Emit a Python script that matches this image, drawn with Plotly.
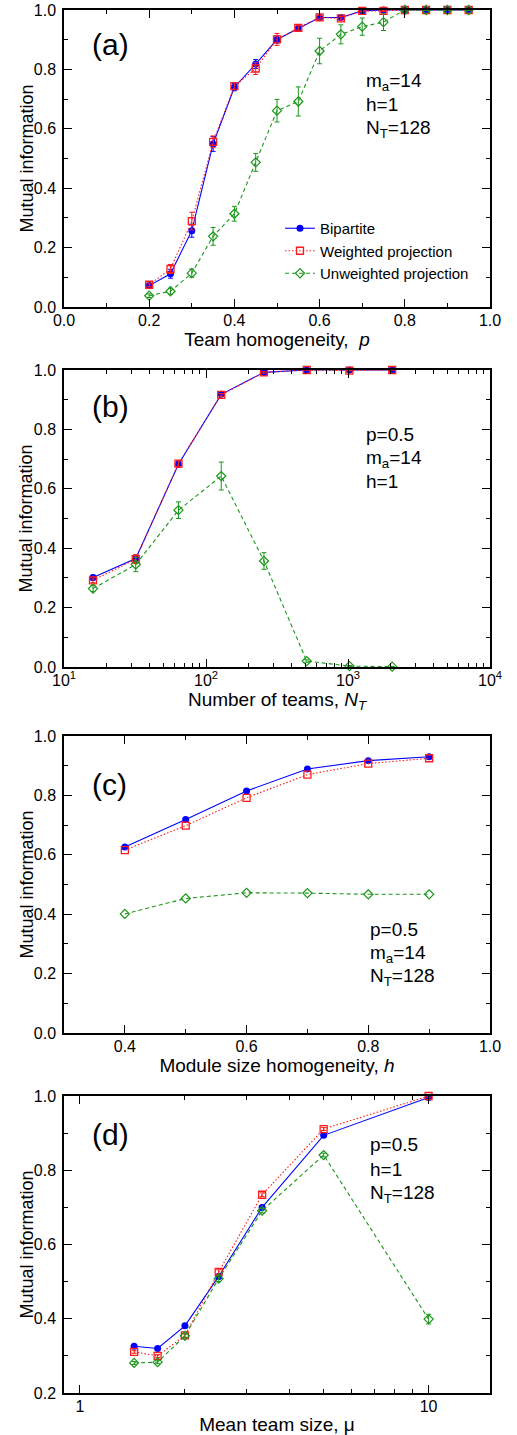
import math
import plotly.graph_objects as go

# ---------------- data ----------------
# Panel (a): team homogeneity p
p_vals = [0.2, 0.25, 0.3, 0.35, 0.4, 0.45, 0.5, 0.55, 0.6, 0.65, 0.7, 0.75, 0.8, 0.85, 0.9, 0.95]
a_bip = [0.072, 0.112, 0.257, 0.549, 0.740, 0.818, 0.901, 0.938, 0.975, 0.975, 0.997, 1.0, 1.0, 1.0, 1.0, 1.0]
a_bip_err = [0.005, 0.015, 0.022, 0.025, 0.012, 0.015, 0.012, 0.008, 0.006, 0.006, 0.003, 0.002, 0, 0, 0, 0]
a_wp = [0.075, 0.128, 0.289, 0.556, 0.744, 0.803, 0.901, 0.940, 0.975, 0.972, 0.997, 0.997, 1.0, 1.0, 1.0, 1.0]
a_wp_err = [0.006, 0.015, 0.030, 0.020, 0.012, 0.020, 0.020, 0.008, 0.006, 0.006, 0.003, 0.002, 0, 0, 0, 0]
a_up = [0.038, 0.053, 0.114, 0.238, 0.314, 0.487, 0.661, 0.692, 0.862, 0.918, 0.944, 0.959, 1.0, 1.0, 1.0, 1.0]
a_up_err = [0.006, 0.010, 0.014, 0.030, 0.025, 0.030, 0.038, 0.049, 0.043, 0.032, 0.029, 0.028, 0.003, 0, 0, 0]

# Panel (b): number of teams N_T
nt_vals = [16, 32, 64, 128, 256, 512, 1024, 2048]
b_bip = [0.301, 0.365, 0.683, 0.918, 0.992, 1.0, 1.0, 1.0]
b_bip_err = [0.008, 0.012, 0.010, 0.005, 0.003, 0, 0, 0]
b_wp = [0.292, 0.363, 0.685, 0.916, 0.992, 1.0, 0.998, 1.0]
b_wp_err = [0.008, 0.015, 0.010, 0.005, 0.003, 0, 0, 0]
b_up = [0.264, 0.345, 0.528, 0.643, 0.357, 0.020, 0.003, 0.001]
b_up_err = [0.010, 0.024, 0.028, 0.047, 0.028, 0.004, 0.002, 0.001]

# Panel (c): module size homogeneity h
h_vals = [0.4, 0.5, 0.6, 0.7, 0.8, 0.9]
c_bip = [0.626, 0.719, 0.815, 0.889, 0.917, 0.930]
c_wp = [0.616, 0.698, 0.792, 0.870, 0.907, 0.925]
c_up = [0.401, 0.453, 0.472, 0.471, 0.467, 0.467]

# Panel (d): mean team size mu
mu_vals = [1.43, 1.67, 2.0, 2.5, 3.33, 5.0, 10.0]
d_bip = [0.326, 0.320, 0.381, 0.514, 0.700, 0.894, 0.996]
d_bip_err = [0.004, 0.004, 0.005, 0.006, 0.005, 0.004, 0.005]
d_wp = [0.311, 0.300, 0.355, 0.526, 0.734, 0.911, 1.0]
d_wp_err = [0.004, 0.004, 0.005, 0.006, 0.005, 0.004, 0.003]
d_up = [0.281, 0.283, 0.354, 0.508, 0.691, 0.841, 0.399]
d_up_err = [0.004, 0.004, 0.005, 0.008, 0.006, 0.005, 0.013]

series_names = ["Bipartite", "Weighted projection", "Unweighted projection"]

log_major_b = [10, 100, 1000, 10000]
log_major_b_text = ["10<sup>1</sup>", "10<sup>2</sup>", "10<sup>3</sup>", "10<sup>4</sup>"]
log_minor_b = [20, 30, 40, 50, 60, 70, 80, 90, 200, 300, 400, 500, 600, 700, 800, 900,
               2000, 3000, 4000, 5000, 6000, 7000, 8000, 9000]
log_major_d = [1, 10]
log_major_d_text = ["1", "10"]
log_minor_d = [2, 3, 4, 5, 6, 7, 8, 9]

# ---------------- styles ----------------
BLUE = "#0000ff"
RED = "#ff1a1a"
GREEN = "#1a961a"
FONT = "Liberation Sans, Arial, sans-serif"

styles = [
    dict(color=BLUE, dash="solid", symbol="circle", msize=7, mline=0),
    dict(color=RED, dash="1.5px,2px", symbol="square-open", msize=7, mline=1.3),
    dict(color=GREEN, dash="4px,3px", symbol="diamond-open", msize=7, mline=1.2),
]

fig = go.Figure()


def add_series(x, y, err, k, xa, ya, show_legend):
    st = styles[k]
    kw = {}
    if err is not None:
        kw["error_y"] = dict(type="data", array=err, visible=True, color=st["color"],
                             thickness=1, width=2.5)
    fig.add_trace(go.Scatter(
        x=x, y=y, mode="lines+markers", name=series_names[k],
        line=dict(color=st["color"], width=1.1, dash=st["dash"]),
        marker=dict(symbol=st["symbol"], size=st["msize"], color=st["color"],
                    line=dict(color=st["color"], width=st["mline"])),
        xaxis=xa, yaxis=ya, showlegend=show_legend, cliponaxis=False, **kw))


panels = [
    ("x", "y", p_vals, [(a_bip, a_bip_err), (a_wp, a_wp_err), (a_up, a_up_err)], True),
    ("x2", "y2", nt_vals, [(b_bip, b_bip_err), (b_wp, b_wp_err), (b_up, b_up_err)], False),
    ("x3", "y3", h_vals, [(c_bip, None), (c_wp, None), (c_up, None)], False),
    ("x4", "y4", mu_vals, [(d_bip, d_bip_err), (d_wp, d_wp_err), (d_up, d_up_err)], False),
]
for xa, ya, xv, ser, leg in panels:
    for k in [0, 1, 2]:
        add_series(xv, ser[k][0], ser[k][1], k, xa, ya, leg)

# the page's body margin is removed (see post_script), so the figure fills the window
W, H = 517, 1435
def px(x):
    return x / W
def py(y):
    return 1 - y / H

xdom = [px(64), px(490)]
ydoms = [[py(307), py(10)], [py(667), py(370)], [py(1033), py(736)], [py(1393), py(1096)]]

tickfont = dict(family=FONT, size=16, color="black")
common_axis = dict(showline=True, linewidth=1.5, linecolor="black", mirror="allticks",
                   ticks="inside", ticklen=8, tickwidth=1, tickcolor="black",
                   showgrid=False, zeroline=False, tickfont=tickfont, automargin=False,
                   ticklabeloverflow="allow")
minor_lin = lambda d: dict(ticks="inside", ticklen=4, tickwidth=1, tickcolor="black", dtick=d, showgrid=False)

xtitle_font = dict(family=FONT, size=19, color="black")
ytitle_font = dict(family=FONT, size=18, color="black")

layout = dict(
    template="none",
    width=W, height=H, margin=dict(l=0, r=0, t=0, b=0, pad=0),
    paper_bgcolor="white", plot_bgcolor="white",
    font=dict(family=FONT, color="black"),
    showlegend=True,
    legend=dict(x=px(280), y=py(212), xanchor="left", yanchor="top",
                font=dict(family=FONT, size=15, color="black"),
                bgcolor="rgba(0,0,0,0)", itemwidth=30, tracegroupgap=0),
)

XSTAND = -2
YSTAND = 3
layout["xaxis"] = dict(common_axis, domain=xdom, anchor="y", range=[0, 1], dtick=0.2,
                       tickformat=".1f", minor=minor_lin(0.1), ticklabelstandoff=XSTAND,
                       title=dict(text="Team homogeneity,  <i>p</i>", font=xtitle_font, standoff=4))
layout["yaxis"] = dict(common_axis, domain=ydoms[0], anchor="x", range=[0, 1], dtick=0.2,
                       tickformat=".1f", minor=minor_lin(0.1), ticklabelstandoff=YSTAND)
layout["xaxis2"] = dict(common_axis, domain=xdom, anchor="y2", type="log", range=[1, 4],
                        tickmode="array", tickvals=log_major_b, ticktext=log_major_b_text,
                        ticklabelstandoff=XSTAND,
                        minor=dict(ticks="inside", ticklen=4, tickwidth=1, tickcolor="black",
                                   tickmode="array", tickvals=log_minor_b, showgrid=False),
                        title=dict(text="Number of teams, <i>N<sub>T</sub></i>", font=xtitle_font, standoff=2))
layout["yaxis2"] = dict(common_axis, domain=ydoms[1], anchor="x2", range=[0, 1], dtick=0.2,
                        tickformat=".1f", minor=minor_lin(0.1), ticklabelstandoff=YSTAND)
layout["xaxis3"] = dict(common_axis, domain=xdom, anchor="y3", range=[0.3, 1.0],
                        tick0=0.4, dtick=0.2, tickformat=".1f", ticklabelstandoff=XSTAND,
                        minor=dict(ticks="inside", ticklen=4, tickwidth=1, tickcolor="black",
                                   tick0=0.3, dtick=0.1, showgrid=False),
                        title=dict(text="Module size homogeneity, <i>h</i>", font=xtitle_font, standoff=4))
layout["yaxis3"] = dict(common_axis, domain=ydoms[2], anchor="x3", range=[0, 1], dtick=0.2,
                        tickformat=".1f", minor=minor_lin(0.1), ticklabelstandoff=YSTAND)
layout["xaxis4"] = dict(common_axis, domain=xdom, anchor="y4", type="log",
                        range=[math.log10(0.9), math.log10(15)],
                        tickmode="array", tickvals=log_major_d, ticktext=log_major_d_text,
                        ticklabelstandoff=XSTAND,
                        minor=dict(ticks="inside", ticklen=4, tickwidth=1, tickcolor="black",
                                   tickmode="array", tickvals=log_minor_d, showgrid=False),
                        title=dict(text="Mean team size, μ", font=xtitle_font, standoff=5))
layout["yaxis4"] = dict(common_axis, domain=ydoms[3], anchor="x4", range=[0.2, 1.0], dtick=0.2,
                        tick0=0.2, tickformat=".1f", minor=minor_lin(0.1), ticklabelstandoff=YSTAND)

fig.update_layout(**layout)

# ---------------- annotations ----------------
ann_font = dict(family=FONT, size=19, color="black")
label_font = dict(family=FONT, size=30, color="black")
annots = []
for lab, yc in [("(a)", 45), ("(b)", 406), ("(c)", 784), ("(d)", 1134)]:
    annots.append(dict(text=lab, x=px(90), y=py(yc), xref="paper", yref="paper",
                       xanchor="left", yanchor="middle", showarrow=False, font=label_font))

# y-axis titles, centred on each panel
for (y0, y1) in [(10, 307), (370, 667), (736, 1033), (1096, 1393)]:
    annots.append(dict(text="Mutual information", x=px(26), y=py((y0 + y1) / 2),
                       xref="paper", yref="paper", xanchor="center", yanchor="middle",
                       textangle=-90, showarrow=False, font=ytitle_font))

info = [
    (364, [("m<sub>a</sub>=14", 82), ("h=1", 105), ("N<sub>T</sub>=128", 129)]),
    (364, [("p=0.5", 434), ("m<sub>a</sub>=14", 459), ("h=1", 482)]),
    (368, [("p=0.5", 929), ("m<sub>a</sub>=14", 954), ("N<sub>T</sub>=128", 977)]),
    (368, [("p=0.5", 1144), ("h=1", 1169), ("N<sub>T</sub>=128", 1194)]),
]
for xl, lines in info:
    for txt, yc in lines:
        annots.append(dict(text=txt, x=px(xl), y=py(yc), xref="paper", yref="paper",
                           xanchor="left", yanchor="middle", showarrow=False, font=ann_font))
fig.update_layout(annotations=annots)

fig.write_html("out.html",
               config={"displayModeBar": False},
               post_script="document.body.style.margin='0px';document.body.style.overflow='hidden';")
